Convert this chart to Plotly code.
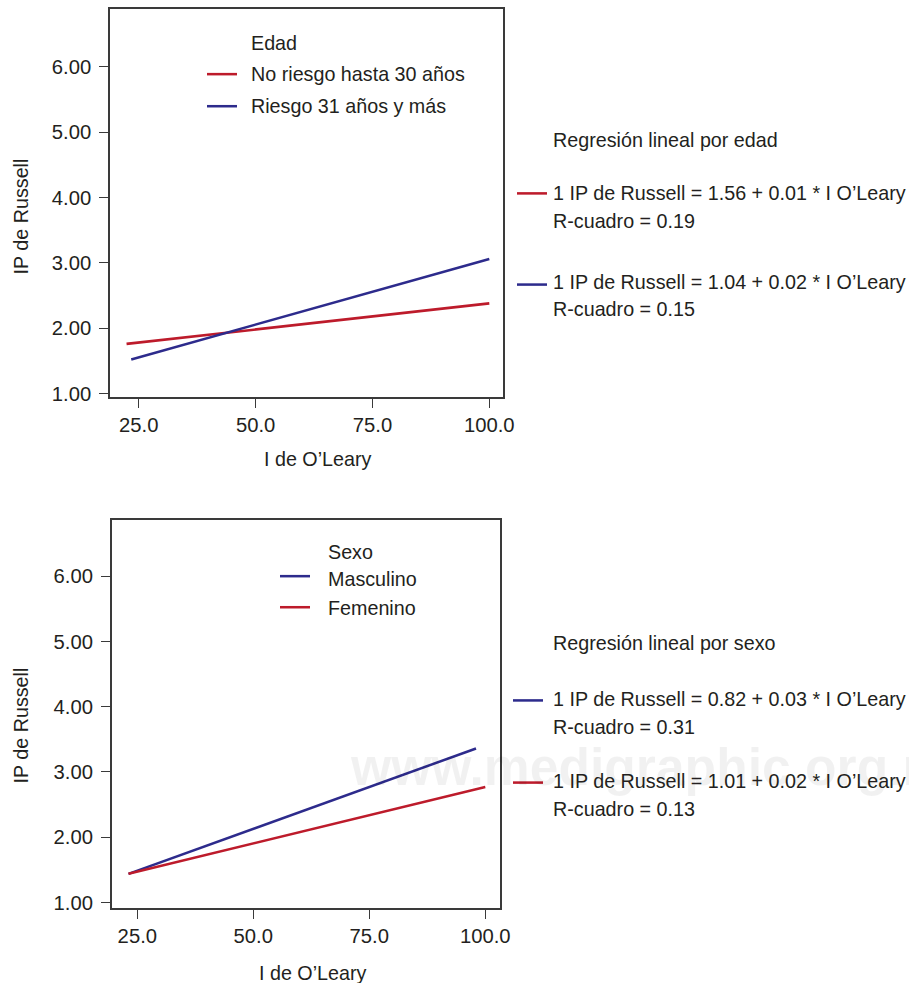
import plotly.graph_objects as go

# ---------------- data ----------------
edad_labels = ["No riesgo hasta 30 años", "Riesgo 31 años y más"]
edad_no_x = [22.4, 100.0]
edad_no_y = [1.76, 2.38]
edad_si_x = [23.4, 100.0]
edad_si_y = [1.52, 3.06]

sexo_labels = ["Masculino", "Femenino"]
sexo_m_x = [23.1, 98.0]
sexo_m_y = [1.44, 3.36]
sexo_f_x = [23.1, 100.0]
sexo_f_y = [1.44, 2.77]

edad_eq = ["1 IP de Russell = 1.56 + 0.01 * I O’Leary", "1 IP de Russell = 1.04 + 0.02 * I O’Leary"]
edad_r2 = ["R-cuadro = 0.19", "R-cuadro = 0.15"]
sexo_eq = ["1 IP de Russell = 0.82 + 0.03 * I O’Leary", "1 IP de Russell = 1.01 + 0.02 * I O’Leary"]
sexo_r2 = ["R-cuadro = 0.31", "R-cuadro = 0.13"]

x_ticks = [25, 50, 75, 100]
y_ticks = [1, 2, 3, 4, 5, 6]

# ---------------- style ----------------
W, H = 909, 983          # reference picture size (layout coordinates below are in these pixels)
CW, CH = 920, 993        # figure size in CSS px
K = CW / W               # size scale factor
RED = "#bd1b2b"
BLUE = "#2d2b8c"
TXT = "#231f20"
AX = "#3a3a3a"
FONT = "Liberation Sans, Arial, sans-serif"
FS = 20 * K              # tick labels
TS = 19.5 * K            # other texts

def px(x):
    return x / W

def py(y):
    return 1 - y / H

LW = 2.5 * K

fig = go.Figure()

fig.add_trace(go.Scatter(x=edad_no_x, y=edad_no_y, mode="lines", name=edad_labels[0],
                         line=dict(color=RED, width=LW), xaxis="x", yaxis="y", showlegend=False))
fig.add_trace(go.Scatter(x=edad_si_x, y=edad_si_y, mode="lines", name=edad_labels[1],
                         line=dict(color=BLUE, width=LW), xaxis="x", yaxis="y", showlegend=False))
fig.add_trace(go.Scatter(x=sexo_m_x, y=sexo_m_y, mode="lines", name=sexo_labels[0],
                         line=dict(color=BLUE, width=LW), xaxis="x2", yaxis="y2", showlegend=False))
fig.add_trace(go.Scatter(x=sexo_f_x, y=sexo_f_y, mode="lines", name=sexo_labels[1],
                         line=dict(color=RED, width=LW), xaxis="x2", yaxis="y2", showlegend=False))

axis_common = dict(showline=True, mirror=True, linecolor=AX, linewidth=1.5,
                   ticks="outside", ticklen=9, tickwidth=1.2, tickcolor=AX,
                   showgrid=False, zeroline=False,
                   tickfont=dict(family=FONT, size=FS, color=TXT))

fig.update_layout(
    width=CW, height=CH,
    margin=dict(l=0, r=0, t=0, b=0),
    paper_bgcolor="white", plot_bgcolor="white",
    xaxis=dict(domain=[px(110), px(503)], range=[18.86, 102.93], anchor="y",
               tickvals=x_ticks, tickformat=".1f", ticklabelstandoff=0, **axis_common),
    yaxis=dict(domain=[py(396), py(9)], range=[0.95, 6.885], anchor="x",
               tickvals=y_ticks, tickformat=".2f", ticklabelstandoff=4, **axis_common),
    xaxis2=dict(domain=[px(111.7), px(500)], range=[19.48, 103.17], anchor="y2",
                tickvals=x_ticks, tickformat=".1f", ticklabelstandoff=0, **axis_common),
    yaxis2=dict(domain=[py(906), py(519.3)], range=[0.919, 6.855], anchor="x2",
                tickvals=y_ticks, tickformat=".2f", ticklabelstandoff=4, **axis_common),
)

annotations = []
shapes = []

# watermark (drawn first, faint)
annotations.append(dict(x=px(348), y=py(765), xref="paper", yref="paper", xanchor="left", yanchor="middle",
                        text="<b>www.medigraphic.org.mx</b>", showarrow=False,
                        font=dict(family=FONT, size=51 * K, color="rgba(0,0,0,0.055)")))

def txt(x, y, s, size=TS, **kw):
    annotations.append(dict(x=px(x), y=py(y), xref="paper", yref="paper",
                            xanchor=kw.get("xanchor", "left"), yanchor="middle",
                            text=s, showarrow=False, textangle=kw.get("angle", 0),
                            font=dict(family=FONT, size=size, color=TXT)))

def key(x0, x1, y, color):
    shapes.append(dict(type="line", xref="paper", yref="paper", x0=px(x0), x1=px(x1),
                       y0=py(y), y1=py(y), line=dict(color=color, width=LW)))

# axis titles
txt(21, 216, "IP de Russell", xanchor="center", angle=-90)
txt(318, 458, "I de O’Leary", xanchor="center")
txt(21, 724, "IP de Russell", xanchor="center", angle=-90)
txt(313, 971, "I de O’Leary", xanchor="center")

# in-plot legends
txt(249, 43, "Edad")
key(207, 237, 74, RED); txt(249, 74, edad_labels[0])
key(207, 237, 106, BLUE); txt(249, 106, edad_labels[1])

txt(326, 551, "Sexo")
key(280, 310, 575, BLUE); txt(326, 578, sexo_labels[0])
key(280, 310, 606, RED); txt(326, 607, sexo_labels[1])

# regression panels
TX = 551
txt(TX, 140, "Regresión lineal por edad")
key(517, 547, 193, RED); txt(TX, 193, edad_eq[0]); txt(TX, 221, edad_r2[0])
key(517, 547, 284, BLUE); txt(TX, 281, edad_eq[1]); txt(TX, 308, edad_r2[1])

txt(TX, 642, "Regresión lineal por sexo")
key(513, 543, 699, BLUE); txt(TX, 698, sexo_eq[0]); txt(TX, 726, sexo_r2[0])
key(513, 543, 781, RED); txt(TX, 779, sexo_eq[1]); txt(TX, 807, sexo_r2[1])

fig.update_layout(annotations=annotations, shapes=shapes)

post = (
    "document.documentElement.style.margin='0';"
    "document.documentElement.style.overflow='hidden';"
    "document.body.style.margin='0';"
    "document.body.style.overflow='hidden';"
    "var g=document.getElementById('{plot_id}');"
    "g.style.position='fixed';g.style.left='0px';g.style.top='0px';"
)
fig.write_html("out.html", config={"displayModeBar": False}, post_script=post)
